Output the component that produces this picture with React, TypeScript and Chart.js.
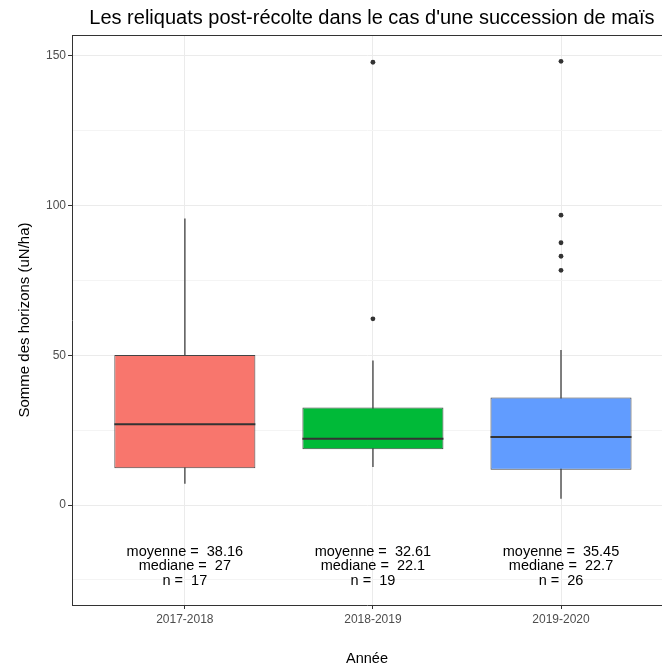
import React, { useEffect, useRef } from "react";
import { Chart, registerables } from "chart.js";

Chart.register(...registerables);

const TITLE = "Les reliquats post-récolte dans le cas d'une succession de maïs";
const categories = ["2017-2018", "2018-2019", "2019-2020"];
const boxColors = ["#F8766D", "#00BA38", "#619CFF"];
const q1 = [12.3, 18.6, 11.8];
const q3 = [50.1, 32.6, 35.9];
const medians = [27, 22.1, 22.7];
const whiskerLow = [7.2, 12.8, 2.2];
const whiskerHigh = [95.6, 48.2, 51.7];
const outliers = [[], [147.9, 62.2], [148.2, 96.8, 87.6, 83.1, 78.4]];
const means = ["38.16", "32.61", "35.45"];
const medianLabels = ["27", "22.1", "22.7"];
const counts = ["17", "19", "26"];
const yTicks = [-25, 0, 25, 50, 75, 100, 125, 150];
const labelY = -20.5;

const FONT = '"Liberation Sans", Arial, sans-serif';

const overlay = {
  id: "overlay",
  afterDraw(chart: any) {
    const { ctx, chartArea } = chart;
    const x = chart.scales.x;
    const y = chart.scales.y;
    ctx.save();
    ctx.strokeStyle = "#333333";
    ctx.lineWidth = 1;
    ctx.beginPath();
    ctx.moveTo(chartArea.left, Math.round(chartArea.top) + 0.5);
    ctx.lineTo(chartArea.right, Math.round(chartArea.top) + 0.5);
    ctx.stroke();

    ctx.fillStyle = "#000000";
    ctx.textAlign = "center";
    ctx.textBaseline = "middle";
    ctx.font = `20px ${FONT}`;
    ctx.fillText(TITLE, x.getPixelForValue(2) - 1, 18);

    ctx.font = `14.5px ${FONT}`;
    categories.forEach((_, i) => {
      const cx = x.getPixelForValue(i + 1);
      const cy = y.getPixelForValue(labelY);
      const lines = [
        `moyenne =  ${means[i]}`,
        `mediane =  ${medianLabels[i]}`,
        `n =  ${counts[i]}`,
      ];
      lines.forEach((l, j) => ctx.fillText(l, cx, cy + (j - 1) * 14.5));
    });
    ctx.restore();
  },
};

export default function App() {
  const ref = useRef<HTMLCanvasElement | null>(null);
  useEffect(() => {
    if (!ref.current) return;
    Chart.defaults.font.family = FONT;
    const chart = new Chart(ref.current, {
      type: "bar",
      data: {
        datasets: [
          {
            type: "bar",
            label: "whiskers",
            data: categories.map((_, i) => ({ x: i + 1, y: [whiskerLow[i], whiskerHigh[i]] })) as any,
            backgroundColor: "#666666",
            barThickness: 1,
            grouped: false,
            order: 3,
          } as any,
          {
            type: "bar",
            label: "boxes",
            data: categories.map((_, i) => ({ x: i + 1, y: [q1[i], q3[i]] })) as any,
            backgroundColor: boxColors,
            borderColor: "#444444",
            borderWidth: 1,
            borderSkipped: false,
            categoryPercentage: 0.75,
            barPercentage: 1,
            grouped: false,
            order: 2,
          } as any,
          {
            type: "scatter",
            label: "medians",
            data: categories.map((_, i) => ({ x: i + 1, y: medians[i] })),
            pointStyle: "line",
            pointRadius: 70.5,
            borderColor: "#333333",
            borderWidth: 2,
            order: 1,
          } as any,
          {
            type: "scatter",
            label: "outliers",
            data: outliers.flatMap((vals, i) => vals.map((v) => ({ x: i + 1, y: v }))),
            pointRadius: 2.4,
            pointBorderWidth: 0,
            backgroundColor: "#333333",
            borderColor: "#333333",
            order: 0,
          } as any,
        ],
      },
      options: {
        animation: false,
        responsive: false,
        devicePixelRatio: 1,
        layout: { autoPadding: false, padding: { top: 35, left: 0, right: 0, bottom: 0 } },
        plugins: {
          legend: { display: false },
          tooltip: { enabled: false },
          title: { display: false },
        },
        scales: {
          x: {
            type: "linear",
            offset: false,
            min: 0.4,
            max: 3.537,
            afterBuildTicks: (s: any) => {
              s.ticks = categories.map((_, i) => ({ value: i + 1 }));
            },
            afterFit: (s: any) => {
              s.height = 59;
            },
            ticks: {
              autoSkip: false,
              maxRotation: 0,
              padding: 3,
              color: "#4D4D4D",
              font: { size: 12 },
              callback: (v: any) => categories[Math.round(Number(v)) - 1] ?? "",
            },
            grid: {
              offset: false,
              color: "#EBEBEB",
              lineWidth: 1,
              tickLength: 4,
              tickColor: "#333333",
            },
            border: { display: true, color: "#333333", width: 1 },
            title: {
              display: true,
              text: "Année",
              color: "#000000",
              font: { size: 14.5, lineHeight: 1 },
              padding: { top: 0, bottom: -2 },
            },
          },
          y: {
            type: "linear",
            min: -33.4,
            max: 157,
            afterBuildTicks: (s: any) => {
              s.ticks = yTicks.map((v) => ({ value: v }));
            },
            afterFit: (s: any) => {
              s.width = 72;
            },
            ticks: {
              autoSkip: false,
              padding: 2,
              color: "#4D4D4D",
              font: { size: 12 },
              callback: (v: any) => (Number(v) % 50 === 0 ? String(v) : ""),
            },
            grid: {
              color: (c: any) => (c.tick && c.tick.value % 50 === 0 ? "#EBEBEB" : "#F4F4F4"),
              lineWidth: 1,
              tickLength: 4,
              tickColor: (c: any) => (c.tick && c.tick.value % 50 === 0 ? "#333333" : "rgba(0,0,0,0)"),
            },
            border: { display: true, color: "#333333", width: 1 },
            title: {
              display: true,
              text: "Somme des horizons (uN/ha)",
              color: "#000000",
              font: { size: 15, lineHeight: 1.2 },
              padding: { top: 16, bottom: 0 },
            },
          },
        },
      } as any,
      plugins: [overlay],
    });
    return () => chart.destroy();
  }, []);
  return (
    <div style={{ position: "fixed", left: 0, top: 0, width: 662, height: 664, background: "#fff" }}>
      <canvas ref={ref} width={662} height={664} />
    </div>
  );
}
